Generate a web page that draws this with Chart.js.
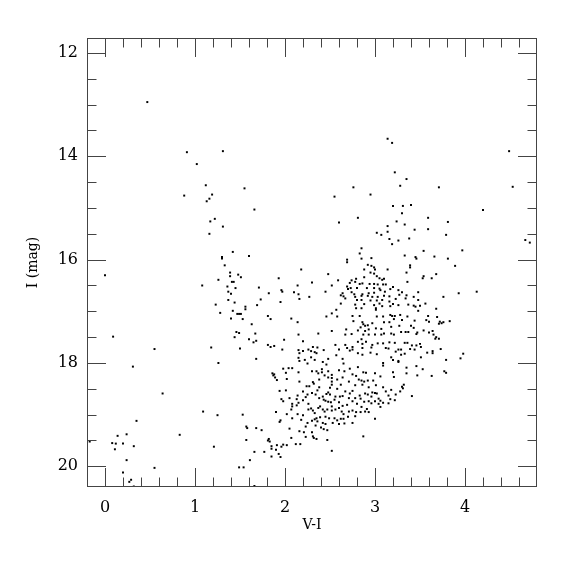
<!DOCTYPE html>
<html>
<head>
<meta charset="utf-8">
<script src="https://cdn.jsdelivr.net/npm/chart.js@4/dist/chart.umd.min.js"></script>
<style>
  html, body { margin: 0; padding: 0; background: #fff; }
  canvas { display: block; }
</style>
</head>
<body>
<canvas id="cmd" width="575" height="575"></canvas>
<script>
// axis ranges and tick labels
var xRange = [-0.2, 4.8];
var yRange = [11.71, 20.4];
var xTicks = [0, 1, 2, 3, 4];
var yTicks = [12, 14, 16, 18, 20];

// stars: V-I colour and I magnitude
// sparse stars at the top
var viTop = [0.47,0.91,1.31,1.02,1.12,3.14,2.76,1.55,3.19,4.49,3.22,3.35,3.28,3.71,4.53];
var iTop  = [12.95,13.92,13.90,14.15,14.56,13.66,14.60,14.62,13.74,13.90,14.31,14.44,14.57,14.60,14.59];

// blue branch near V-I 1.3
var viBlue = [0.88,1.19,1.16,1.13,1.22,1.17,1.31,1.16,1.42,1.30,
              1.30,1.33,0.00,1.39,1.39,1.26,1.41,1.43,1.08,1.36,
              1.45,1.37,1.40,1.37,1.44,1.23,1.42,1.28,1.47,1.40,
              1.46,1.44,0.09];
var iBlue  = [14.76,14.74,14.82,14.87,15.21,15.26,15.36,15.50,15.85,15.95,
              15.98,16.11,16.30,16.25,16.32,16.39,16.43,16.43,16.50,16.52,
              16.55,16.62,16.66,16.78,16.83,16.87,16.99,17.03,17.05,17.14,
              17.40,17.50,17.49];

// faint blue stars bottom left
var viFaint = [0.55,1.18,1.26,0.31,0.64,1.09,1.25,0.35,0.83,-0.17,
               0.08,0.12,0.14,0.24,0.20,0.11,0.32,1.21,0.24,0.55,
               0.20,0.29,0.27,0.32];
var iFaint  = [17.73,17.70,18.00,18.07,18.59,18.94,19.01,19.12,19.39,19.52,
               19.55,19.56,19.41,19.38,19.56,19.67,19.61,19.62,19.88,20.03,
               20.12,20.26,20.30,20.39];

// red side, upper half
var viRed = [3.20,3.31,3.40,4.20,3.30,3.24,3.59,3.81,3.33,3.44,
             3.59,3.79,3.16,3.26,3.38,3.19,4.67,4.72,3.54,3.97,
             3.33,3.45,3.46,3.66,3.81,3.89,3.39,3.39,3.35,3.68,
             3.54,3.53,3.63,3.36,3.20,3.17,3.26,3.30,3.48,3.93,
             4.13,3.35,3.27,3.43,3.76,3.34,3.48,3.23,3.16,3.16,
             3.20,3.26,3.37,3.43,3.45,3.50,3.56,3.68,3.17,3.48,
             3.17,3.19,3.22,3.28,3.36,3.59,3.69,3.21,3.30,3.44,
             3.57,3.60,3.72,3.74,3.76,3.71,3.83,3.16,3.18,3.27,
             3.40,3.43,3.54,3.60,3.64,3.18,3.21,3.29,3.34,3.37,
             3.47,3.46,3.65,3.68];
var iRed  = [14.96,14.96,14.94,15.04,15.10,15.26,15.19,15.27,15.32,15.42,
             15.41,15.52,15.60,15.63,15.59,15.70,15.62,15.67,15.83,15.82,
             15.92,15.95,15.98,15.94,15.98,16.12,16.11,16.15,16.25,16.28,
             16.32,16.36,16.36,16.43,16.53,16.57,16.59,16.63,16.63,16.65,
             16.62,16.69,16.68,16.72,16.72,16.75,16.78,16.76,16.71,16.81,
             16.86,16.88,16.87,16.89,16.91,16.89,16.85,16.95,16.90,16.99,
             17.07,17.09,17.09,17.07,17.10,17.09,17.11,17.15,17.17,17.18,
             17.17,17.20,17.20,17.23,17.21,17.24,17.19,17.21,17.30,17.28,
             17.28,17.32,17.37,17.41,17.38,17.43,17.45,17.40,17.40,17.40,
             17.41,17.44,17.45,17.50];

// red side, lower half
var viRedLow = [3.16,3.22,3.33,3.36,3.41,3.46,3.50,3.51,3.67,3.71,
                3.15,3.23,3.26,3.29,3.29,3.33,3.39,3.44,3.58,3.64,
                3.64,3.73,3.98,3.95,3.79,3.18,3.20,3.26,3.26,3.51,
                3.35,3.46,3.53,3.20,3.35,3.77,3.79,3.21,3.47,3.63,
                3.32,3.30,3.31,3.18,3.28,3.23,3.41,3.15,3.17,3.22,
                3.15];
var iRedLow  = [17.60,17.61,17.61,17.61,17.66,17.66,17.63,17.69,17.53,17.53,
                17.72,17.78,17.74,17.74,17.84,17.82,17.73,17.74,17.80,17.77,
                17.81,17.73,17.82,17.91,17.94,17.89,17.94,17.96,17.98,17.89,
                18.09,18.06,18.12,18.18,18.20,18.16,18.19,18.27,18.24,18.25,
                18.42,18.46,18.49,18.52,18.55,18.61,18.64,18.63,18.70,18.72,
                18.78];

// giant branch, upper middle
var viGiant = [2.95,2.55,1.66,2.81,2.60,3.14,3.14,3.02,3.07,2.85,
               2.83,1.60,2.85,2.96,2.69,2.69,2.92,2.96,2.99,3.00,
               2.88,2.18,3.14,2.95,2.99,2.48,1.48,1.51,1.93,2.88,
               3.02,3.05,2.79,3.08,3.10,2.59,2.74,2.30,2.72,2.78,
               2.83,2.86,2.94,2.99,3.03,3.09,3.12,2.14,2.52,2.69,
               1.71,2.70,2.73,2.80,2.91,2.99,3.05,1.96,1.97,3.06,
               3.11,2.45,1.82,2.10,2.64,2.74,2.77,2.86,2.93,2.99,
               2.15,2.62,2.65,2.27,2.78,2.85,2.92,2.97,3.03,3.10,
               1.73,2.16,2.67,2.80,2.85,2.95,3.02,3.08,1.95,2.62,
               2.78,2.88,2.99,3.05,1.69,2.79,2.85,3.01,3.08,1.56,
               1.56,3.01,2.57,1.49,1.51,2.52,1.81,1.84,2.07,2.46,
               2.58,2.75,2.83,3.02,3.09,1.53,2.14,2.76,2.86,2.97,
               3.10,1.63,2.87,2.89,2.92,2.84,2.93,3.01,3.07,2.68,
               2.52,2.81,2.89,1.67,2.15,2.37,2.67,2.74,2.87,2.93,
               3.00,3.07,3.10,1.49];
var iGiant  = [14.74,14.78,15.03,15.19,15.28,15.35,15.46,15.48,15.52,15.78,
               15.88,15.93,15.98,15.97,16.00,16.05,16.10,16.12,16.15,16.19,
               16.19,16.19,16.19,16.25,16.27,16.28,16.29,16.34,16.36,16.34,
               16.32,16.36,16.37,16.39,16.37,16.40,16.40,16.44,16.45,16.43,
               16.47,16.46,16.47,16.47,16.48,16.48,16.48,16.50,16.50,16.52,
               16.54,16.57,16.55,16.55,16.55,16.55,16.56,16.59,16.62,16.59,
               16.62,16.62,16.65,16.63,16.65,16.63,16.67,16.67,16.65,16.64,
               16.67,16.69,16.71,16.72,16.72,16.70,16.70,16.72,16.72,16.70,
               16.77,16.76,16.75,16.78,16.78,16.79,16.79,16.78,16.82,16.85,
               16.87,16.86,16.88,16.85,16.88,16.94,16.94,16.94,16.90,16.91,
               16.96,16.97,16.97,17.05,17.05,17.04,17.09,17.15,17.14,17.10,
               17.10,17.09,17.09,17.10,17.10,17.15,17.21,17.19,17.21,17.23,
               17.21,17.25,17.25,17.28,17.27,17.31,17.35,17.33,17.34,17.35,
               17.38,17.37,17.38,17.43,17.45,17.43,17.45,17.44,17.45,17.45,
               17.45,17.45,17.43,17.42];

// dense clump, lower middle
var viClump = [1.60,1.65,1.68,1.50,1.81,1.84,1.88,1.99,1.97,1.68,
               2.20,2.15,2.16,2.15,2.16,2.20,2.26,2.29,2.31,2.33,
               2.36,2.35,2.29,2.33,2.25,2.22,2.43,2.48,2.42,2.46,
               2.41,2.56,2.60,2.57,2.64,2.65,2.60,2.67,2.69,2.72,
               2.75,2.75,2.81,2.85,2.86,2.86,2.90,2.97,2.96,3.03,
               3.09,3.12,2.81,2.86,2.95,3.02,3.09,3.09,2.81,2.72,
               2.66,2.87,2.90,3.00,3.06,2.82,2.85,2.88,2.92,2.98,
               2.86,2.78,2.93,3.09,3.01,3.12,2.97,3.00,3.02,2.89,
               2.83,2.92,2.96,3.04,3.06,3.04,3.09,3.06,2.75,2.72,
               2.64,2.71,2.78,2.84,2.88,2.93,2.96,3.00,2.75,2.80,
               2.85,2.69,2.64,2.60,2.55,2.56,2.61,2.50,2.46,2.42,
               2.43,2.45,2.48,2.51,2.38,2.48,2.50,2.52,2.52,2.52,
               2.48,2.52,2.48,2.44,2.41,2.37,2.38,2.35,2.30,2.31,
               2.32,2.27,2.38,2.36,2.30,2.34,2.16,2.15,2.01,1.86,
               1.87,1.89,1.91,1.88,1.98,2.04,2.08,2.02,1.94,2.01,
               2.05,1.96,1.98,2.14,2.13,2.15,2.13,2.20,2.23,2.26,
               2.26,2.29,2.31,2.33,2.37,2.39,2.42,2.44,2.47,2.52,
               2.52,2.56,2.60,2.63,2.65,2.71,2.75,2.79,2.84,2.89,
               2.91,2.93,3.00,2.78,2.70,2.65,2.62,2.58,2.55,2.49,
               2.45,2.39,2.35,2.33,2.30,2.36,2.42,2.45,2.53,2.60,
               2.66,2.75,2.34,2.40,2.43,2.47,2.23,2.25,2.18,2.20,
               2.14,2.08,1.95,1.94,2.05,2.16,2.21,2.30,2.32,2.35,
               2.31,2.47,2.07,2.23,2.17,2.12,2.02,1.98,1.96,1.91,
               1.85,1.85,1.82,1.83,1.81,1.90,1.93,1.95,1.85,1.77,
               1.66,1.61,1.57,1.53,1.57,1.58,1.68,1.74,1.90,2.02,
               2.07,2.08,1.49,1.54,1.66,2.52,2.87,2.67,2.62,2.58,
               2.64,2.58,2.71,2.79,2.75,2.20,2.25,2.08,2.24];
var iClump  = [17.54,17.60,17.57,17.72,17.65,17.69,17.67,17.55,17.74,17.92,
               17.58,17.75,17.81,17.90,17.96,17.77,17.74,17.77,17.69,17.79,
               17.70,17.81,17.89,17.94,18.01,17.94,17.75,17.92,17.98,18.03,
               18.12,17.65,17.74,17.85,17.92,18.01,18.14,17.65,17.71,17.76,
               17.69,17.74,17.59,17.54,17.63,17.71,17.59,17.65,17.70,17.62,
               17.62,17.71,17.81,17.84,17.80,17.83,18.00,18.05,18.08,18.11,
               18.16,18.18,18.19,18.20,18.26,18.32,18.34,18.36,18.34,18.34,
               18.42,18.43,18.47,18.47,18.43,18.55,18.57,18.58,18.59,18.59,
               18.63,18.61,18.65,18.69,18.73,18.79,18.77,18.85,18.54,18.59,
               18.64,18.68,18.68,18.69,18.75,18.74,18.78,18.74,18.74,18.79,
               18.85,18.81,18.83,18.76,18.71,18.65,18.65,18.61,18.60,18.65,
               18.71,18.73,18.75,18.76,18.68,18.57,18.48,18.42,18.36,18.29,
               18.28,18.23,18.16,18.24,18.18,18.20,18.32,18.16,18.16,18.37,
               18.40,18.45,18.47,18.53,18.58,18.61,18.36,18.18,18.19,18.20,
               18.24,18.28,18.33,18.22,18.11,18.10,18.10,18.31,18.54,18.53,
               18.68,18.70,18.74,18.63,18.70,18.77,18.82,18.72,18.66,18.79,
               18.90,18.88,18.92,18.97,18.87,18.84,18.90,18.94,18.90,18.84,
               18.92,18.90,18.87,18.94,18.99,18.94,18.92,18.95,18.95,18.94,
               18.89,18.95,19.08,19.03,19.04,19.08,19.08,19.11,19.07,19.07,
               19.04,19.05,19.07,19.09,19.12,19.13,19.16,19.18,19.16,19.18,
               19.17,19.16,19.21,19.25,19.28,19.30,19.23,19.16,19.10,19.01,
               18.99,19.07,19.11,19.14,19.27,19.32,19.34,19.34,19.45,19.47,
               19.42,19.49,19.45,19.43,19.57,19.57,19.59,19.58,19.62,19.59,
               19.61,19.66,19.47,19.52,19.50,19.68,19.76,19.82,19.81,19.72,
               19.72,19.88,19.49,19.00,19.23,19.26,19.26,19.30,18.95,18.99,
               18.90,18.84,20.02,20.02,20.38,19.70,19.42,18.55,18.42,18.50,
               18.28,18.32,18.36,18.25,18.22,18.55,18.61,18.79,18.45];

var allVI = [].concat(viTop, viBlue, viFaint, viRed, viRedLow, viGiant, viClump);
var allI  = [].concat(iTop, iBlue, iFaint, iRed, iRedLow, iGiant, iClump);
var stars = allVI.map(function(v, k) { return {x: v, y: allI[k]}; });

var serif = "'DejaVu Serif', serif";

// frame with inward ticks on all four sides
var frameTicks = {
    id: 'frameTicks',
    afterDraw: function(chart)
    {
        var ctx = chart.ctx;
        var a = chart.chartArea;
        var xs = chart.scales.x, ys = chart.scales.y;
        ctx.save();
        ctx.strokeStyle = '#444';
        ctx.lineWidth = 1;
        ctx.strokeRect(a.left + 0.5, a.top + 0.5, a.right - a.left - 1, a.bottom - a.top - 1);
        ctx.beginPath();
        for (var k = 0; k <= 23; k++) {
            var px = Math.round(xs.getPixelForValue(k / 5)) + 0.5;
            var len = (k % 5 === 0) ? 19 : 9.5;
            ctx.moveTo(px, a.bottom); ctx.lineTo(px, a.bottom - len);
            ctx.moveTo(px, a.top); ctx.lineTo(px, a.top + len);
        }
        for (var j = 24; j <= 40; j++) {
            var py = Math.round(ys.getPixelForValue(j / 2)) + 0.5;
            var ln = (j % 4 === 0) ? 19 : 9.5;
            ctx.moveTo(a.left, py); ctx.lineTo(a.left + ln, py);
            ctx.moveTo(a.right, py); ctx.lineTo(a.right - ln, py);
        }
        ctx.stroke();
        ctx.restore();
    }
};

var chart = new Chart(document.getElementById('cmd'), {
    type: 'scatter',
    data: {
        datasets: [{
            data: stars,
            pointStyle: 'rect',
            pointRadius: 1.4,
            borderWidth: 0,
            backgroundColor: '#000'
        }]
    },
    options: {
        responsive: false,
        animation: false,
        layout: { padding: { top: 38, right: 38, left: 0, bottom: 0 } },
        plugins: { legend: { display: false }, tooltip: { enabled: false } },
        scales: {
            x: {
                type: 'linear',
                min: xRange[0], max: xRange[1],
                grid: { display: false, drawTicks: false },
                border: { display: false },
                afterBuildTicks: function(s) { s.ticks = xTicks.map(function(v) { return {value: v}; }); },
                afterFit: function(s) { s.height = 88; },
                ticks: { color: '#000', padding: 11, font: { family: serif, size: 16 } },
                title: { display: true, text: 'V-I', color: '#000', padding: { top: 0, bottom: 41 }, font: { family: serif, size: 14 } }
            },
            y: {
                type: 'linear',
                reverse: true,
                min: yRange[0], max: yRange[1],
                grid: { display: false, drawTicks: false },
                border: { display: false },
                afterBuildTicks: function(s) { s.ticks = yTicks.map(function(v) { return {value: v}; }); },
                afterFit: function(s) { s.width = 87; },
                ticks: { color: '#000', padding: 9, font: { family: serif, size: 16 } },
                title: { display: true, text: 'I (mag)', color: '#000', padding: { top: 25, bottom: 0 }, font: { family: serif, size: 14 } }
            }
        }
    },
    plugins: [frameTicks]
});
</script>
</body>
</html>
